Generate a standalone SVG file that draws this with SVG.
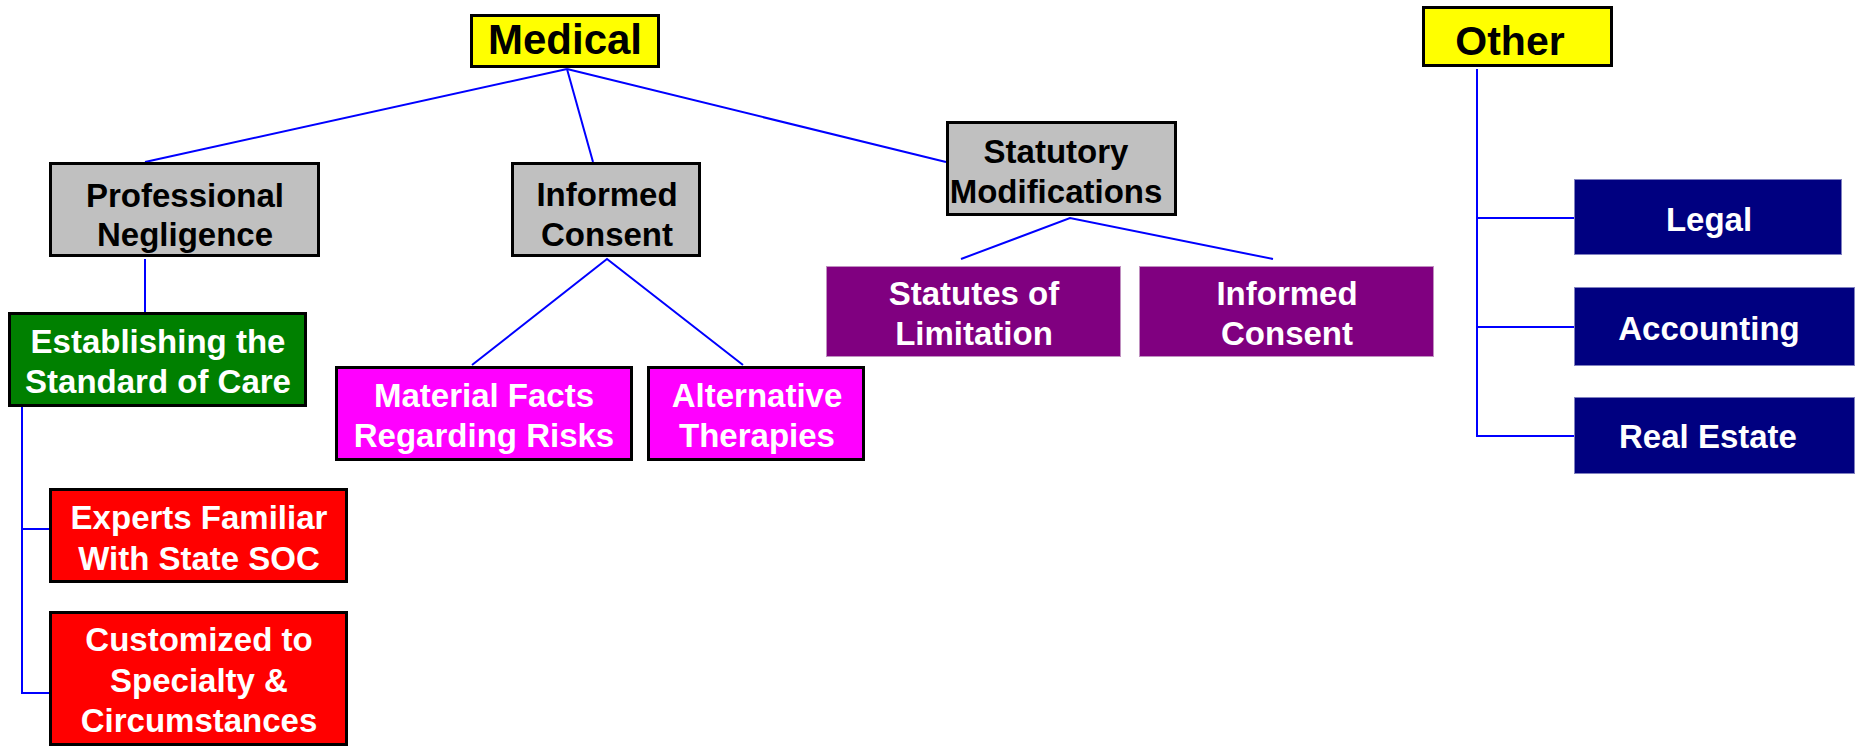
<svg xmlns="http://www.w3.org/2000/svg" width="1858" height="747" viewBox="0 0 1858 747">
<style>
.b{stroke:#000;stroke-width:3}
.gray{fill:#C0C0C0}
.yel{fill:#FFFF00}
.grn{fill:#008000}
.mag{fill:#FF00FF}
.red{fill:#FF0000}
.pur{fill:#800080;stroke:#C090C0;stroke-width:1}
.navy{fill:#000080;stroke:#8080C0;stroke-width:1}
text{font-family:"Liberation Sans",Arial,sans-serif;font-weight:bold;font-size:33px;text-anchor:middle}
.dk{fill:#000}
.wt{fill:#FFF}
.big{font-size:42px}
#connectors line,#connectors polyline{stroke:#0000FF;stroke-width:2;fill:none}
</style>
<rect width="1858" height="747" fill="#FFF"/>
<g id="connectors">
<line x1="567" y1="69" x2="145" y2="162"/>
<line x1="567" y1="69" x2="593" y2="162"/>
<line x1="567" y1="69" x2="946" y2="162"/>
<line x1="145" y1="259" x2="145" y2="312"/>
<polyline points="22,407 22,693 49,693"/>
<line x1="22" y1="529" x2="49" y2="529"/>
<polyline points="472,365 607,259 743,365"/>
<polyline points="961,259 1070,218 1273,259"/>
<polyline points="1477,69 1477,436 1574,436"/>
<line x1="1477" y1="218" x2="1574" y2="218"/>
<line x1="1477" y1="327" x2="1574" y2="327"/>
</g>
<g id="medical"><rect class="b yel" x="471.5" y="15.5" width="187" height="51"/><text class="dk big" x="565" y="54">Medical</text></g>
<g id="other"><rect class="b yel" x="1423.5" y="7.5" width="188" height="58"/><text class="dk big" x="1510" y="55" style="font-size:41px">Other</text></g>
<g id="professional-negligence"><rect class="b gray" x="50.5" y="163.5" width="268" height="92"/><text class="dk" x="185" y="207">Professional</text><text class="dk" x="185" y="246">Negligence</text></g>
<g id="informed-consent-1"><rect class="b gray" x="512.5" y="163.5" width="187" height="92"/><text class="dk" x="607" y="206">Informed</text><text class="dk" x="607" y="246">Consent</text></g>
<g id="statutory-modifications"><rect class="b gray" x="947.5" y="122.5" width="228" height="92"/><text class="dk" x="1056" y="163">Statutory</text><text class="dk" x="1056" y="203">Modifications</text></g>
<g id="establishing"><rect class="b grn" x="9.5" y="313.5" width="296" height="92"/><text class="wt" x="158" y="353">Establishing the</text><text class="wt" x="158" y="393">Standard of Care</text></g>
<g id="material-facts"><rect class="b mag" x="336.5" y="367.5" width="295" height="92"/><text class="wt" x="484" y="407">Material Facts</text><text class="wt" x="484" y="447">Regarding Risks</text></g>
<g id="alternative-therapies"><rect class="b mag" x="648.5" y="367.5" width="215" height="92"/><text class="wt" x="757" y="407">Alternative</text><text class="wt" x="757" y="447">Therapies</text></g>
<g id="experts"><rect class="b red" x="50.5" y="489.5" width="296" height="92"/><text class="wt" x="199" y="529">Experts Familiar</text><text class="wt" x="199" y="570">With State SOC</text></g>
<g id="customized"><rect class="b red" x="50.5" y="612.5" width="296" height="132"/><text class="wt" x="199" y="651">Customized to</text><text class="wt" x="199" y="692">Specialty &amp;</text><text class="wt" x="199" y="732">Circumstances</text></g>
<g id="statutes-of-limitation"><rect class="pur" x="826.5" y="266.5" width="294" height="90"/><text class="wt" x="974" y="305">Statutes of</text><text class="wt" x="974" y="345">Limitation</text></g>
<g id="informed-consent-2"><rect class="pur" x="1139.5" y="266.5" width="294" height="90"/><text class="wt" x="1287" y="305">Informed</text><text class="wt" x="1287" y="345">Consent</text></g>
<g id="legal"><rect class="navy" x="1574.5" y="179.5" width="267" height="75"/><text class="wt" x="1709" y="231">Legal</text></g>
<g id="accounting"><rect class="navy" x="1574.5" y="287.5" width="280" height="78"/><text class="wt" x="1709" y="340">Accounting</text></g>
<g id="real-estate"><rect class="navy" x="1574.5" y="397.5" width="280" height="76"/><text class="wt" x="1708" y="448">Real Estate</text></g>
</svg>
